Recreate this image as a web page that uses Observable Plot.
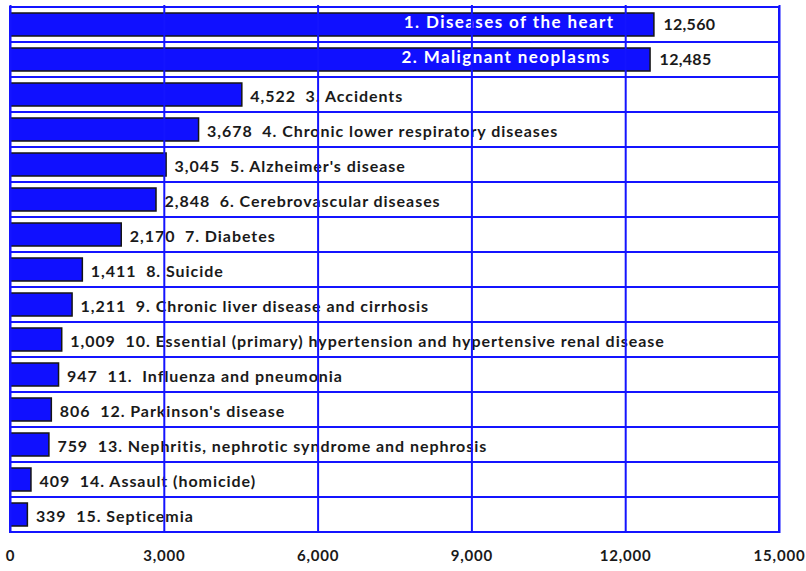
<!DOCTYPE html>
<html><head><meta charset="utf-8">
<script src="https://cdn.jsdelivr.net/npm/d3@7"></script>
<script src="https://cdn.jsdelivr.net/npm/@observablehq/plot@0.6"></script>
<style>
body{margin:0;background:#fff}
.lbl-in text{letter-spacing:1.4px}
.lbl-val text{letter-spacing:0.3px}
.lbl-out text{letter-spacing:0.95px}
.axis-x text{letter-spacing:0.8px}
</style>
</head><body><div id="chart"></div>
<script>
const causes = [
  "1. Diseases of the heart",
  "2. Malignant neoplasms",
  "3. Accidents",
  "4. Chronic lower respiratory diseases",
  "5. Alzheimer's disease",
  "6. Cerebrovascular diseases",
  "7. Diabetes",
  "8. Suicide",
  "9. Chronic liver disease and cirrhosis",
  "10. Essential (primary) hypertension and hypertensive renal disease",
  "11.  Influenza and pneumonia",
  "12. Parkinson's disease",
  "13. Nephritis, nephrotic syndrome and nephrosis",
  "14. Assault (homicide)",
  "15. Septicemia"
];
const deaths = [12560, 12485, 4522, 3678, 3045, 2848, 2170, 1411, 1211, 1009, 947, 806, 759, 409, 339];
const xTicks = [0, 3000, 6000, 9000, 12000, 15000];

const data = causes.map((c, i) => ({cause: c, deaths: deaths[i]}));
const fmt = d3.format(",");
const blue = "#1414ff";
const font = "Lato, 'Open Sans', sans-serif";
const big = data.filter(d => d.deaths > 10000);
const small = data.filter(d => d.deaths <= 10000);
const sep = "\u00a0";

const chart = Plot.plot({
  width: 806, height: 571,
  marginLeft: 10, marginRight: 27, marginTop: 5, marginBottom: 38,
  style: {fontFamily: font, fontWeight: "bold", background: "#fff", overflow: "visible"},
  x: {domain: [0, 15000], axis: null},
  y: {domain: causes, padding: 0, axis: null},
  marks: [
    Plot.barX(data, {x: "deaths", y: "cause", fill: "#1010ff", stroke: "#151515", strokeWidth: 1.5, insetTop: 6, insetBottom: 6}),
    Plot.text(big, {x: "deaths", y: "cause", text: "cause", fill: "white", textAnchor: "end", dx: -40, dy: -2, fontSize: 17, fontWeight: "bold", fontFamily: font, className: "lbl-in"}),
    Plot.text(big, {x: "deaths", y: "cause", text: d => fmt(d.deaths), fill: "#1a1a1a", textAnchor: "start", dx: 9, fontSize: 16, fontWeight: "bold", fontFamily: font, className: "lbl-val"}),
    Plot.text(small, {x: "deaths", y: "cause", text: d => fmt(d.deaths) + sep + sep + d.cause, fill: "#1a1a1a", textAnchor: "start", dx: 8, dy: 2, fontSize: 16, fontWeight: "bold", fontFamily: font, className: "lbl-out"}),
    Plot.barX(causes, {x1: 0, x2: 15000, y: d => d, fill: "none", stroke: blue, strokeWidth: 2}),
    Plot.ruleX(xTicks, {stroke: blue, strokeWidth: 2}),
    Plot.axisX(xTicks, {tickFormat: d3.format(","), tickSize: 0, tickPadding: 17, fontSize: 15, fontWeight: "bold", fill: "#1a1a1a", fontFamily: font, label: null, className: "axis-x"})
  ]
});
document.getElementById("chart").appendChild(chart);
</script>
</body></html>
